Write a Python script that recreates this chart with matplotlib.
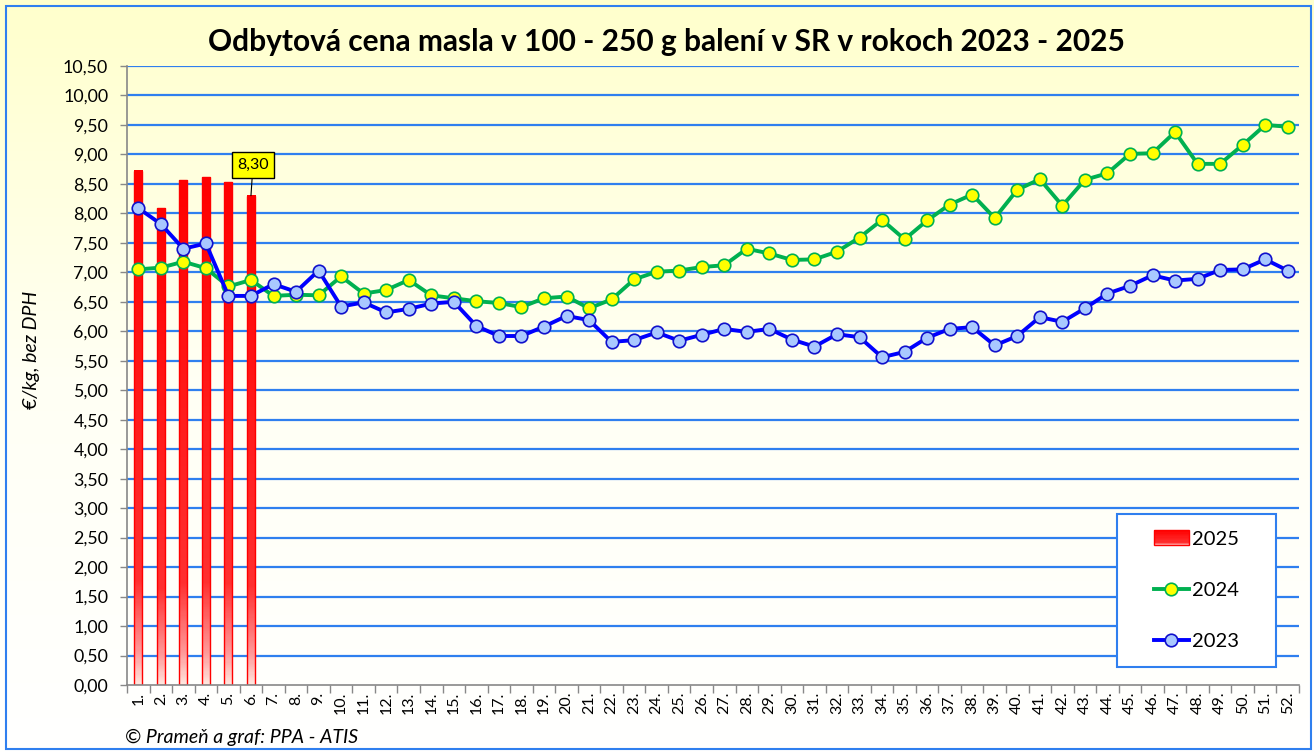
import numpy as np
import matplotlib
matplotlib.use("Agg")
import matplotlib.pyplot as plt
from matplotlib.patches import Rectangle
from matplotlib.legend_handler import HandlerBase
from matplotlib.lines import Line2D
from matplotlib.colors import LinearSegmentedColormap

plt.rcParams['font.family'] = ['Lato', 'DejaVu Sans']

weeks = list(range(1, 53))
week_labels = [f"{w}." for w in weeks]

vals_2025 = [8.72, 8.09, 8.56, 8.61, 8.53, 8.30]

vals_2024 = [7.05, 7.08, 7.18, 7.07, 6.76, 6.87, 6.60, 6.62, 6.61, 6.93,
             6.64, 6.70, 6.87, 6.61, 6.56, 6.51, 6.48, 6.41, 6.56, 6.59,
             6.39, 6.54, 6.88, 7.01, 7.03, 7.09, 7.12, 7.40, 7.32, 7.21,
             7.22, 7.35, 7.59, 7.89, 7.56, 7.88, 8.15, 8.32, 7.92, 8.40,
             8.58, 8.13, 8.57, 8.68, 9.01, 9.02, 9.38, 8.84, 8.84, 9.16,
             9.50, 9.47]

vals_2023 = [8.09, 7.82, 7.40, 7.49, 6.60, 6.60, 6.80, 6.67, 7.03, 6.42,
             6.49, 6.32, 6.38, 6.47, 6.50, 6.09, 5.92, 5.92, 6.08, 6.26,
             6.19, 5.82, 5.85, 5.98, 5.84, 5.94, 6.04, 5.99, 6.04, 5.86,
             5.74, 5.95, 5.90, 5.56, 5.65, 5.89, 6.04, 6.07, 5.76, 5.92,
             6.24, 6.16, 6.39, 6.64, 6.77, 6.95, 6.86, 6.89, 7.04, 7.05,
             7.22, 7.03]

title = "Odbytová cena masla v 100 - 250 g balení v SR v rokoch 2023 - 2025"
ylabel = "€/kg, bez DPH"
source = "© Prameň a graf: PPA - ATIS"

W, H = 1314, 753
fig = plt.figure(figsize=(W / 100, H / 100), dpi=100)

# background gradient
bg = fig.add_axes([0, 0, 1, 1], zorder=-10)
grad = np.linspace(0, 1, 256).reshape(-1, 1)
bg_cmap = LinearSegmentedColormap.from_list("bg", ["#FFFFCC", "#FFFFF4", "#FFFFFF"])
bg.imshow(grad, aspect='auto', cmap=bg_cmap, extent=[0, 1, 0, 1], origin='upper')
bg.set_xlim(0, 1); bg.set_ylim(0, 1)
bg.axis('off')
bg.add_patch(Rectangle((6 / W, 1 - 749 / H), (1311 - 6) / W, (749 - 6) / H,
                       fill=False, edgecolor="#2F7FEF", linewidth=1.5,
                       transform=bg.transAxes))

ax = fig.add_axes([127 / W, 1 - 685 / H, (1299 - 127) / W, (685 - 66) / H])
ax.set_facecolor('none')

# gridlines
yt = np.arange(0, 10.51, 0.5)
for y in yt[1:]:
    ax.axhline(y, color="#2F7FEF", linewidth=1.6, zorder=1)

# bars with gradient
bar_cmap = LinearSegmentedColormap.from_list(
    "bar", [(0, "#FFE4DC"), (0.06, "#FF9A9A"), (0.2, "#FF3030"), (1, "#FF0000")])
bw = 0.36
for i, v in enumerate(vals_2025):
    x = weeks[i]
    g = np.linspace(0, 1, 300).reshape(-1, 1)
    ax.imshow(g, aspect='auto', cmap=bar_cmap, origin='lower',
              extent=[x - bw / 2, x + bw / 2, 0, v], zorder=2)
    ax.add_patch(Rectangle((x - bw / 2, 0), bw, v, fill=False,
                           edgecolor="#FF0000", linewidth=1.0, zorder=2.1))

ax.plot(weeks, vals_2024, color="#00B050", linewidth=2.8, marker='o',
        markersize=9, markerfacecolor="#FFFF00", markeredgecolor="#00B050",
        markeredgewidth=1.2, zorder=3)
ax.plot(weeks, vals_2023, color="#0000FF", linewidth=2.8, marker='o',
        markersize=9, markerfacecolor="#A9C8FF", markeredgecolor="#1010CC",
        markeredgewidth=1.2, zorder=4)

# data label
ax.annotate("8,30", xy=(6, vals_2025[5]), xytext=(6.09, 8.82),
            ha='center', va='center', fontsize=11.5, zorder=6,
            bbox=dict(boxstyle='square,pad=0.35', facecolor="#FFFF00",
                      edgecolor="black", linewidth=1),
            arrowprops=dict(arrowstyle='-', color='black', linewidth=0.8,
                            shrinkA=0, shrinkB=0))

ax.set_xlim(0.5, 52.5)
ax.set_ylim(0, 10.5)

ax.set_yticks(yt)
ax.set_yticklabels([f"{v:.2f}".replace('.', ',') for v in yt], fontsize=12.8)
ax.set_xticks(np.arange(0.5, 53, 1))
ax.set_xticklabels([])
ax.set_xticks(weeks, minor=True)
ax.set_xticklabels(week_labels, minor=True, rotation=90, fontsize=11.5)
ax.tick_params(axis='x', which='minor', length=0, pad=5)
ax.tick_params(axis='x', which='major', length=6, color="#888888", width=1)
ax.tick_params(axis='y', length=5, color="#888888", width=1, pad=8.5)

for s in ['top', 'right']:
    ax.spines[s].set_visible(False)
for s in ['left', 'bottom']:
    ax.spines[s].set_color("#888888")
    ax.spines[s].set_linewidth(1.2)

fig.text(32 / W, 1 - 350 / H, ylabel, rotation=90, ha='center', va='center',
         fontsize=14, style='italic')
fig.text(125 / W, 1 - 737 / H, source, ha='left', va='center',
         fontsize=14, style='italic')
fig.text(666 / W, 1 - 42 / H, title, ha='center', va='center',
         fontsize=21.5, fontweight='bold')


class HandlerGrad(HandlerBase):
    def create_artists(self, legend, orig_handle, xdescent, ydescent,
                       width, height, fontsize, trans):
        arts = []
        n = 12
        hh = height * 1.1
        y0 = -ydescent - (hh - height) / 2
        for k in range(n):
            c = bar_cmap(0.05 + 0.95 * k / (n - 1))
            r = Rectangle((-xdescent, y0 + hh * k / n), width, hh / n + 0.2,
                          facecolor=c, edgecolor='none', transform=trans)
            arts.append(r)
        arts.append(Rectangle((-xdescent, y0), width, hh, fill=False,
                              edgecolor="#FF0000", linewidth=1, transform=trans))
        return arts


# legend frame drawn separately
lx0, ly0, lx1, ly1 = 1117, 514, 1276, 667
fig.add_artist(Rectangle((lx0 / W, 1 - ly1 / H), (lx1 - lx0) / W, (ly1 - ly0) / H,
                         facecolor="white", edgecolor="#2F7FEF", linewidth=1.5,
                         transform=fig.transFigure, zorder=5))

h25 = Rectangle((0, 0), 1, 1)
h24 = Line2D([], [], color="#00B050", linewidth=2.8, marker='o', markersize=9,
             markerfacecolor="#FFFF00", markeredgecolor="#00B050", markeredgewidth=1.2)
h23 = Line2D([], [], color="#0000FF", linewidth=2.8, marker='o', markersize=9,
             markerfacecolor="#A9C8FF", markeredgecolor="#1010CC", markeredgewidth=1.2)
leg = fig.legend([h25, h24, h23], ["2025", "2024", "2023"],
                 handler_map={Rectangle: HandlerGrad()},
                 loc='center', bbox_to_anchor=((lx0 + lx1) / 2 / W, 1 - (ly0 + ly1) / 2 / H),
                 fontsize=14.5, frameon=False,
                 labelspacing=1.7, handlelength=1.75,
                 handletextpad=0.15, borderpad=0, borderaxespad=0)
leg.set_zorder(6)

fig.savefig("out.png", dpi=100)
